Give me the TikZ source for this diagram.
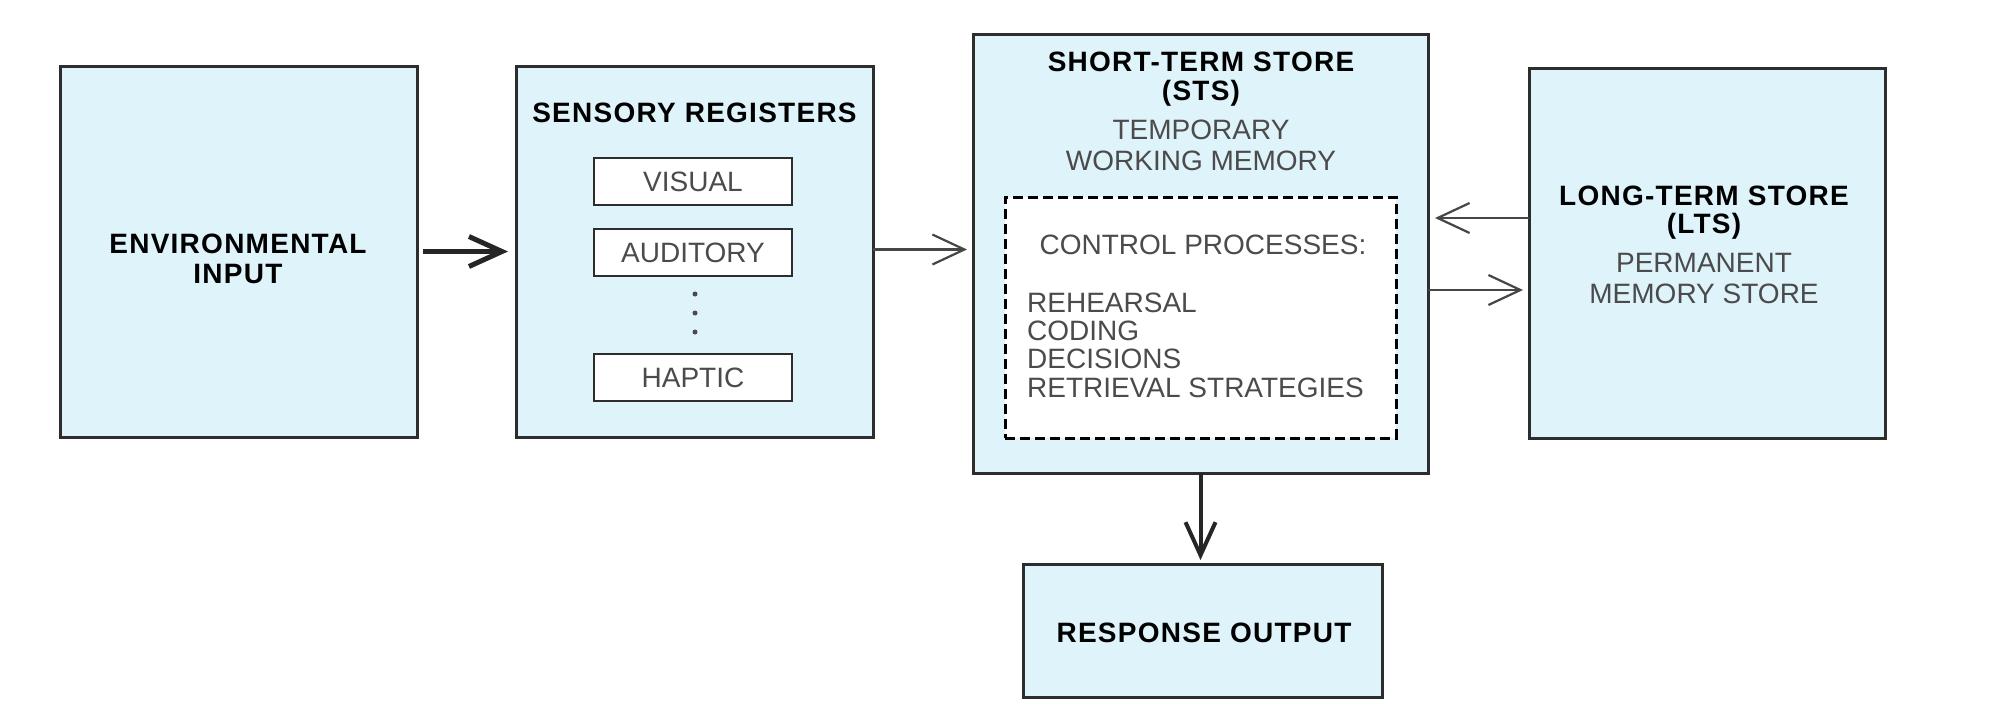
\documentclass[tikz,border=0pt]{standalone}
\usepackage{fontspec}
\setmainfont{Liberation Sans}
\newfontfamily\headfont[LetterSpace=4.5]{Liberation Sans}
\usetikzlibrary{arrows.meta}
\definecolor{boxfill}{RGB}{222,243,250}
\definecolor{edge}{RGB}{45,45,45}
\definecolor{lighttext}{RGB}{75,75,75}
\definecolor{thinline}{RGB}{70,70,70}
\tikzset{
  bigbox/.style={draw=edge, fill=boxfill, line width=3pt, inner sep=0pt, outer sep=0pt},
  subbox/.style={draw=edge, fill=white, line width=2.5pt, inner sep=0pt, outer sep=0pt,
    minimum width=198pt, minimum height=47pt, font=\fontsize{28}{30}\selectfont, text=lighttext},
  dashbox/.style={draw=black, fill=white, line width=3pt, dash pattern=on 10pt off 5pt, inner sep=0pt, outer sep=0pt},
  boldtxt/.style={anchor=base, inner sep=0pt, font=\headfont\fontsize{28}{30}\selectfont\bfseries, text=black},
  lighttxt/.style={anchor=base, inner sep=0pt, font=\fontsize{28}{30}\selectfont, text=lighttext},
  thickarrow/.style={draw=black!85, line width=5pt, -{Straight Barb[length=33pt,width=30pt]}},
  thinarrow/.style={draw=thinline, line width=2.2pt, -{Straight Barb[length=32pt,width=30pt]}},
  dotmark/.style={circle, fill=lighttext, inner sep=0pt, minimum size=5pt}
}
\begin{document}
\begin{tikzpicture}[x=1pt,y=-1pt]
\useasboundingbox[fill=white] (0,0) rectangle (1996,724);

% main boxes
\node[bigbox, minimum width=357pt, minimum height=371pt] (env) at (238.5,251.5) {};
\node[bigbox, minimum width=357pt, minimum height=371pt] (sens) at (694.5,251.5) {};
\node[bigbox, minimum width=455pt, minimum height=439pt] (sts) at (1200.5,253.5) {};
\node[bigbox, minimum width=356pt, minimum height=370pt] (lts) at (1707,253) {};
\node[bigbox, minimum width=359pt, minimum height=133pt] (resp) at (1202.5,630.5) {};

% environmental input
\node[boldtxt] (envA) at (238,253) {ENVIRONMENTAL};
\node[boldtxt] (envB) at (238,283) {INPUT};

% sensory registers
\node[boldtxt] (sensT) at (694.5,122) {SENSORY REGISTERS};
\node[subbox] (vis) at (693,181.5) {VISUAL};
\node[subbox] (aud) at (693,252.5) {AUDITORY};
\node[subbox] (hap) at (693,377.5) {HAPTIC};
\node[dotmark] (d1) at (695,294) {};
\node[dotmark] (d2) at (695,313) {};
\node[dotmark] (d3) at (695,332) {};

% short-term store
\node[boldtxt] (stsA) at (1201,71) {SHORT-TERM STORE};
\node[boldtxt] (stsB) at (1201,100) {(STS)};
\node[lighttxt] (stsC) at (1201,139) {TEMPORARY};
\node[lighttxt] (stsD) at (1201,170) {WORKING MEMORY};
\node[dashbox, minimum width=391pt, minimum height=241pt] (ctrl) at (1200.5,317.5) {};
\node[lighttxt] (ctrlT) at (1203,254) {CONTROL PROCESSES:};
\node[lighttxt, anchor=base west] (c1) at (1027,312) {REHEARSAL};
\node[lighttxt, anchor=base west] (c2) at (1027,340) {CODING};
\node[lighttxt, anchor=base west] (c3) at (1027,368.5) {DECISIONS};
\node[lighttxt, anchor=base west] (c4) at (1027,397) {RETRIEVAL STRATEGIES};

% long-term store
\node[boldtxt] (ltsA) at (1704,205) {LONG-TERM STORE};
\node[boldtxt] (ltsB) at (1704,233) {(LTS)};
\node[lighttxt] (ltsC) at (1704,272) {PERMANENT};
\node[lighttxt] (ltsD) at (1704,303) {MEMORY STORE};

% response output
\node[boldtxt] (respT) at (1204,642) {RESPONSE OUTPUT};

% connectors
\draw[thickarrow, shorten <=6pt, shorten >=8pt] (env) -- (sens);
\draw[thinarrow, shorten >=6pt] ([yshift=2pt]sens.east) -- ([yshift=2pt]sens.east -| sts.west);
\draw[thinarrow, shorten >=7pt] ([yshift=35pt]lts.west) -- ([yshift=35pt]lts.west -| sts.east);
\draw[thinarrow, shorten >=6pt] ([yshift=-37pt]lts.west -| sts.east) -- ([yshift=-37pt]lts.west);
\draw[thickarrow, line width=4pt, shorten >=4pt] (sts.south) -- (sts.south |- resp.north);
\end{tikzpicture}
\end{document}
